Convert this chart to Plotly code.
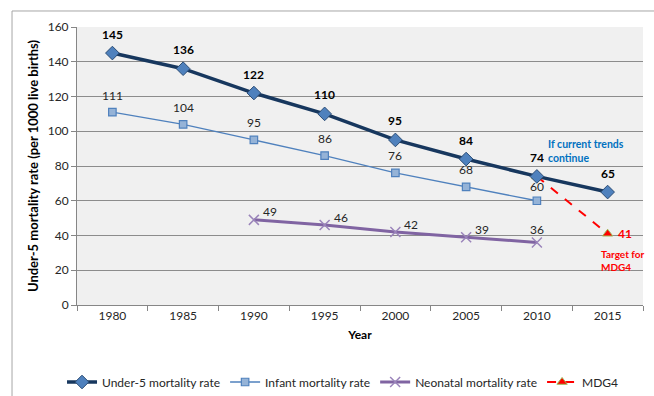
import plotly.graph_objects as go

years = ["1980", "1985", "1990", "1995", "2000", "2005", "2010", "2015"]
under5 = [145, 136, 122, 110, 95, 84, 74, 65]
infant_years = ["1980", "1985", "1990", "1995", "2000", "2005", "2010"]
infant = [111, 104, 95, 86, 76, 68, 60]
neonatal_years = ["1990", "1995", "2000", "2005", "2010"]
neonatal = [49, 46, 42, 39, 36]
mdg_years = ["2010", "2015"]
mdg4 = [74, 41]

FONT = "Lato"
pos = {y: i for i, y in enumerate(years)}  # category index used by annotations

fig = go.Figure()

# MDG4 projection drawn first so its start point sits beneath the under-5 marker
fig.add_trace(go.Scatter(
    x=mdg_years, y=mdg4, name="MDG4", mode="lines+markers", legendrank=4,
    line=dict(color="#FF0000", width=2, dash="dash"),
    marker=dict(symbol="triangle-up", size=9, color="#FF0000",
                line=dict(color="#9BBB59", width=1)),
))
fig.add_trace(go.Scatter(
    x=years, y=under5, name="Under-5 mortality rate", mode="lines+markers", legendrank=1,
    line=dict(color="#17375E", width=3.5),
    marker=dict(symbol="diamond", size=10.5, color="#4F81BD",
                line=dict(color="#2C4D75", width=1)),
))
fig.add_trace(go.Scatter(
    x=infant_years, y=infant, name="Infant mortality rate", mode="lines+markers", legendrank=2,
    line=dict(color="#4F81BD", width=1.3),
    marker=dict(symbol="square", size=7.5, color="#95B3D7",
                line=dict(color="#4F81BD", width=1.2)),
))
fig.add_trace(go.Scatter(
    x=neonatal_years, y=neonatal, name="Neonatal mortality rate", mode="lines+markers",
    legendrank=3,
    line=dict(color="#8064A2", width=3),
    marker=dict(symbol="x-thin", size=10, color="#8064A2",
                line=dict(color="#9A84BA", width=1.5)),
))

ann = []
for x, v in zip(years, under5):
    ann.append(dict(x=pos[x], y=v, text=f"<b>{v}</b>", showarrow=False, yshift=19,
                    font=dict(size=12, color="#000000", family=FONT)))
for x, v in zip(infant_years, infant):
    ann.append(dict(x=pos[x], y=v, text=str(v), showarrow=False,
                    yshift=14 if x == "2010" else 17,
                    font=dict(size=12, color="#262626", family=FONT)))
for x, v in zip(neonatal_years, neonatal):
    last = x == neonatal_years[-1]
    ann.append(dict(x=pos[x], y=v, text=str(v), showarrow=False,
                    yshift=13 if last else 8, xshift=0 if last else 16,
                    font=dict(size=12, color="#262626", family=FONT)))
ann.append(dict(x=pos[mdg_years[-1]], y=mdg4[-1], text=f"<b>{mdg4[-1]}</b>", showarrow=False,
                xshift=17, font=dict(size=12, color="#FF0000", family=FONT)))
ann.append(dict(x=pos["2010"], y=74, text="<b>If current trends<br>continue</b>",
                showarrow=False, xanchor="left", yanchor="middle", align="left",
                xshift=9, yshift=25,
                font=dict(size=10.5, color="#0070C0", family=FONT)))
ann.append(dict(x=pos["2015"], y=41, text="<b>Target for<br>MDG4</b>", showarrow=False,
                xanchor="left", yanchor="top", align="left", xshift=-9, yshift=-12,
                font=dict(size=10, color="#FF0000", family=FONT)))

fig.update_layout(
    width=654, height=396,
    margin=dict(l=77, r=11, t=27, b=91, autoexpand=False),
    paper_bgcolor="#FFFFFF", plot_bgcolor="#F0F0F0",
    font=dict(family=FONT, size=12, color="#262626"),
    annotations=ann,
    showlegend=True,
    legend=dict(orientation="h", x=0.47, xanchor="center", y=-0.277, yanchor="middle",
                font=dict(size=12, color="#262626", family=FONT),
                itemwidth=30, tracegroupgap=0),
    xaxis=dict(type="category", categoryorder="array", categoryarray=years,
               range=[-0.5, 7.5], tickson="boundaries", ticks="outside", ticklen=5,
               tickcolor="#868686", showline=True, linecolor="#868686", showgrid=False,
               tickfont=dict(size=12, color="#262626"),
               title=dict(text="<b>Year</b>", standoff=8, font=dict(size=12, color="#000000"))),
    yaxis=dict(range=[0, 160], dtick=20, ticks="outside", ticklen=5, tickcolor="#868686",
               showline=True, linecolor="#868686", gridcolor="#8C8C8C", gridwidth=1,
               zeroline=False, tickfont=dict(size=12, color="#262626"),
               title=dict(text="<b>Under-5 mortality rate (per 1000 live births)</b>",
                          standoff=6, font=dict(size=13, color="#000000"))),
    shapes=[
        dict(type="line", xref="paper", yref="paper", x0=-0.1148, x1=1.03, y0=1.0576, y1=1.0576,
             line=dict(color="#A6A6A6", width=1)),
        dict(type="line", xref="paper", yref="paper", x0=-0.1148, x1=-0.1148, y0=1.0576, y1=-0.35,
             line=dict(color="#A6A6A6", width=1)),
    ],
)

fig.write_html("out.html")
